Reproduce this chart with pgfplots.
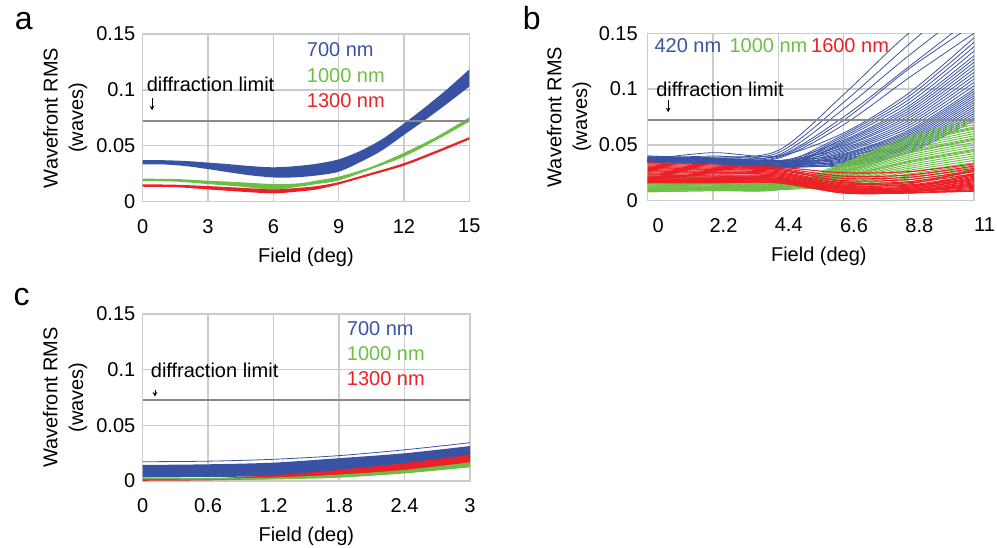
\documentclass[border=0pt]{standalone}
\usepackage{pgfplots}
\pgfplotsset{compat=1.18}
\usepgfplotslibrary{fillbetween}
\usetikzlibrary{arrows.meta}
\usepackage{fontspec}
\setmainfont{Liberation Sans}
\definecolor{cblue}{HTML}{3953A4}
\definecolor{cgreen}{HTML}{6CBE45}
\definecolor{cred}{HTML}{EC2027}
\definecolor{gridgray}{HTML}{CCCCCC}
\definecolor{limgray}{HTML}{8A8A8A}
\tikzset{lbl/.style={font=\fontsize{15}{18}\selectfont, inner sep=0pt, anchor=west}}
\pgfplotsset{
 panel/.style={
  scale only axis,
  ymin=0, ymax=0.15,
  ytick={0,0.05,0.1,0.15},
  yticklabels={0,0.05,0.1,0.15},
  scaled ticks=false,
  axis line style={draw=gridgray, line width=1pt},
  grid=major,
  major grid style={draw=gridgray, line width=1pt},
  major tick length=0pt,
  tick label style={font=\fontsize{15}{18}\selectfont, text=black},
  /pgf/number format/assume math mode=true,
  xticklabel style={yshift=-9.5pt},
  yticklabel style={xshift=-2pt},
  ylabel={Wavefront RMS\\(waves)},
  ylabel style={at={(axis description cs:-0.237,0.5)}, anchor=center, align=center, font=\fontsize{15}{19.2}\selectfont},
  xlabel={Field (deg)},
  xlabel style={at={(axis description cs:0.5,0)}, anchor=center, yshift=-41.5pt, font=\fontsize{15}{18}\selectfont},
  clip=true,
 },
 lim/.style={limgray, line width=1.4pt},
 bl/.style={cblue, line width=0.6pt, smooth},
 gl/.style={cgreen, line width=0.7pt, smooth},
 rl/.style={cred, line width=0.8pt, smooth},
}
\newcommand{\darrow}[3]{\draw[black, line width=0.6pt, -{Stealth[length=3.5pt,width=3.5pt]}] (axis cs:#1,#2) -- (axis cs:#1,#3);}
\begin{document}
\begin{tikzpicture}
\node[font=\fontsize{24}{28}\selectfont, anchor=base west, inner sep=0pt] at (11pt,-22.5pt) {a};
\node[font=\fontsize{24}{28}\selectfont, anchor=base west, inner sep=0pt] at (392pt,-22.5pt) {b};
\node[font=\fontsize{24}{28}\selectfont, anchor=base west, inner sep=0pt] at (10pt,-229pt) {c};

% ---------------- panel a ----------------
\begin{axis}[panel, at={(107pt,-151.3pt)}, anchor=south west, width=245pt, height=125.8pt,
  xmin=0, xmax=15, xtick={0,3,6,9,12,15}, xticklabels={0,3,6,9,12,15}]
\addplot[lim] coordinates {(0,0.0725) (15,0.0725)};
\addplot[name path=aBu, draw=none, smooth] coordinates {(0,0.0373) (1,0.0371) (2,0.0364) (3,0.0350) (4,0.0335) (5,0.0318) (6,0.0308) (7,0.0318) (8,0.0340) (9,0.0379) (10,0.0455) (11,0.0560) (12,0.0700) (13,0.0850) (14,0.1010) (15,0.1184)};
\addplot[name path=aBl, draw=none, smooth] coordinates {(0,0.0335) (1,0.0333) (2,0.0318) (3,0.0292) (4,0.0262) (5,0.0235) (6,0.0217) (7,0.0218) (8,0.0235) (9,0.0268) (10,0.0355) (11,0.0460) (12,0.0598) (13,0.0735) (14,0.0880) (15,0.1030)};
\addplot[fill=cblue, draw=none] fill between[of=aBu and aBl];
\addplot[name path=aGu, draw=none, smooth] coordinates {(0,0.0206) (1.5,0.0203) (3,0.0188) (4.5,0.0174) (6,0.0158) (7.2,0.0165) (8,0.0190) (9,0.0224) (10.5,0.0312) (12,0.0438) (13.5,0.0582) (15,0.0755)};
\addplot[name path=aGl, draw=none, smooth] coordinates {(0,0.0185) (1.5,0.0180) (3,0.0158) (4.5,0.0135) (6,0.0108) (7.2,0.0135) (8,0.0158) (9,0.0190) (10.5,0.0292) (12,0.0403) (13.5,0.0553) (15,0.0716)};
\addplot[fill=cgreen, draw=none] fill between[of=aGu and aGl];
\addplot[name path=aRu, draw=none, smooth] coordinates {(0,0.0156) (1.5,0.0152) (3,0.0140) (4.5,0.0125) (6,0.0110) (7.2,0.0125) (8,0.0140) (9,0.0175) (10.5,0.0258) (12,0.0345) (13.5,0.0458) (15,0.0578)};
\addplot[name path=aRl, draw=none, smooth] coordinates {(0,0.0134) (1.5,0.0130) (3,0.0110) (4.5,0.0090) (6,0.0075) (7.2,0.0092) (8,0.0110) (9,0.0155) (10.5,0.0238) (12,0.0323) (13.5,0.0436) (15,0.0556)};
\addplot[fill=cred, draw=none] fill between[of=aRu and aRl];
\node[lbl, text=cblue] at (axis cs:7.53,0.1357) {700 nm};
\node[lbl, text=cgreen] at (axis cs:7.53,0.1124) {1000 nm};
\node[lbl, text=cred] at (axis cs:7.53,0.0903) {1300 nm};
\node[lbl] at (axis cs:0.18,0.1053) {diffraction limit};
\darrow{0.43}{0.0925}{0.0818}
\end{axis}

% ---------------- panel b ----------------
\begin{axis}[panel, at={(485.8pt,-150.5pt)}, anchor=south west, width=244.7pt, height=125.55pt,
  xmin=0, xmax=11, xtick={0,2.2,4.4,6.6,8.8,11}, xticklabels={0,2.2,4.4,6.6,8.8,11},
  xticklabel style={xshift=7.9pt}, yticklabel style={xshift=-2pt},
  ylabel style={at={(axis description cs:-0.241,0.5)}},
  xlabel style={xshift=6pt}]
% blue
\addplot[bl] coordinates {(0,0.038) (2.2,0.037) (4.4,0.034) (6.6,0.0310) (8.8,0.0430) (11,0.072)};
\addplot[bl] coordinates {(0,0.036) (2.2,0.035) (4.4,0.031) (6.6,0.0318) (8.8,0.0444) (11,0.074)};
\addplot[bl] coordinates {(0,0.035) (2.2,0.034) (4.4,0.030) (6.6,0.0326) (8.8,0.0459) (11,0.076)};
\addplot[bl] coordinates {(0,0.037) (2.2,0.036) (4.4,0.032) (6.6,0.0334) (8.8,0.0473) (11,0.078)};
\addplot[bl] coordinates {(0,0.039) (2.2,0.038) (4.4,0.035) (6.6,0.0342) (8.8,0.0488) (11,0.080)};
\addplot[bl] coordinates {(0,0.034) (2.2,0.033) (4.4,0.029) (6.6,0.0350) (8.8,0.0502) (11,0.082)};
\addplot[bl] coordinates {(0,0.036) (2.2,0.035) (4.4,0.031) (6.6,0.0358) (8.8,0.0516) (11,0.084)};
\addplot[bl] coordinates {(0,0.038) (2.2,0.037) (4.4,0.033) (6.6,0.0366) (8.8,0.0531) (11,0.086)};
\addplot[bl] coordinates {(0,0.040) (2.2,0.038) (4.4,0.036) (6.6,0.0374) (8.8,0.0545) (11,0.088)};
\addplot[bl] coordinates {(0,0.035) (2.2,0.034) (4.4,0.030) (6.6,0.0382) (8.8,0.0560) (11,0.090)};
\addplot[bl] coordinates {(0,0.038) (2.2,0.037) (4.4,0.034) (6.6,0.0390) (8.8,0.0574) (11,0.092)};
\addplot[bl] coordinates {(0,0.036) (2.2,0.035) (4.4,0.031) (6.6,0.0398) (8.8,0.0588) (11,0.094)};
\addplot[bl] coordinates {(0,0.035) (2.2,0.034) (4.4,0.030) (6.6,0.0406) (8.8,0.0603) (11,0.096)};
\addplot[bl] coordinates {(0,0.037) (2.2,0.036) (4.4,0.032) (6.6,0.0414) (8.8,0.0617) (11,0.098)};
\addplot[bl] coordinates {(0,0.039) (2.2,0.038) (4.4,0.035) (6.6,0.0422) (8.8,0.0632) (11,0.100)};
\addplot[bl] coordinates {(0,0.034) (2.2,0.033) (4.4,0.029) (6.6,0.0434) (8.8,0.0653) (11,0.103)};
\addplot[bl] coordinates {(0,0.036) (2.2,0.035) (4.4,0.031) (6.6,0.0446) (8.8,0.0675) (11,0.106)};
\addplot[bl] coordinates {(0,0.038) (2.2,0.037) (4.4,0.033) (6.6,0.0458) (8.8,0.0696) (11,0.109)};
\addplot[bl] coordinates {(0,0.040) (2.2,0.038) (4.4,0.036) (6.6,0.0470) (8.8,0.0718) (11,0.112)};
\addplot[bl] coordinates {(0,0.035) (2.2,0.034) (4.4,0.030) (6.6,0.0482) (8.8,0.0740) (11,0.115)};
\addplot[bl] coordinates {(0,0.038) (2.2,0.037) (4.4,0.034) (6.6,0.0494) (8.8,0.0761) (11,0.118)};
\addplot[bl] coordinates {(0,0.036) (2.2,0.035) (4.4,0.031) (6.6,0.0506) (8.8,0.0783) (11,0.121)};
\addplot[bl] coordinates {(0,0.035) (2.2,0.034) (4.4,0.030) (6.6,0.0518) (8.8,0.0804) (11,0.124)};
\addplot[bl] coordinates {(0,0.037) (2.2,0.036) (4.4,0.032) (6.6,0.0530) (8.8,0.0826) (11,0.127)};
\addplot[bl] coordinates {(0,0.039) (2.2,0.038) (4.4,0.035) (6.6,0.0542) (8.8,0.0848) (11,0.130)};
\addplot[bl] coordinates {(0,0.034) (2.2,0.033) (4.4,0.029) (6.6,0.0558) (8.8,0.0876) (11,0.134)};
\addplot[bl] coordinates {(0,0.036) (2.2,0.035) (4.4,0.031) (6.6,0.0574) (8.8,0.0905) (11,0.138)};
\addplot[bl] coordinates {(0,0.038) (2.2,0.037) (4.4,0.033) (6.6,0.0590) (8.8,0.0934) (11,0.142)};
\addplot[bl] coordinates {(0,0.037) (2.2,0.043) (4.4,0.040) (6.6,0.0606) (8.8,0.0963) (11,0.146)};
\addplot[bl] coordinates {(0,0.038) (2.2,0.039) (4.4,0.045) (6.6,0.095) (8.8,0.150) (11,0.19)};
\addplot[bl] coordinates {(0,0.037) (2.2,0.038) (4.4,0.043) (6.6,0.088) (8.8,0.140) (11,0.19)};
\addplot[bl] coordinates {(0,0.036) (2.2,0.037) (4.4,0.041) (6.6,0.082) (8.8,0.130) (11,0.175)};
\addplot[bl] coordinates {(0,0.038) (2.2,0.040) (4.4,0.040) (6.6,0.075) (8.8,0.120) (11,0.165)};
\addplot[bl] coordinates {(0,0.035) (2.2,0.036) (4.4,0.038) (6.6,0.068) (8.8,0.110) (11,0.150)};
\addplot[bl] coordinates {(0,0.036) (2.2,0.037) (4.4,0.039) (6.6,0.072) (8.8,0.118) (11,0.158)};
% green
\addplot[gl] coordinates {(0,0.020) (2.2,0.018) (4.4,0.0150) (6.6,0.0336) (8.8,0.0578) (11,0.072)};
\addplot[gl] coordinates {(0,0.012) (2.2,0.012) (4.4,0.0110) (6.6,0.0327) (8.8,0.0561) (11,0.070)};
\addplot[gl] coordinates {(0,0.016) (2.2,0.015) (4.4,0.0130) (6.6,0.0318) (8.8,0.0544) (11,0.068)};
\addplot[gl] coordinates {(0,0.009) (2.2,0.010) (4.4,0.0100) (6.6,0.0309) (8.8,0.0527) (11,0.066)};
\addplot[gl] coordinates {(0,0.022) (2.2,0.019) (4.4,0.0140) (6.6,0.0300) (8.8,0.0510) (11,0.064)};
\addplot[gl] coordinates {(0,0.014) (2.2,0.013) (4.4,0.0120) (6.6,0.0291) (8.8,0.0493) (11,0.062)};
\addplot[gl] coordinates {(0,0.010) (2.2,0.010) (4.4,0.0105) (6.6,0.0282) (8.8,0.0476) (11,0.060)};
\addplot[gl] coordinates {(0,0.018) (2.2,0.016) (4.4,0.0135) (6.6,0.0273) (8.8,0.0459) (11,0.058)};
\addplot[gl] coordinates {(0,0.008) (2.2,0.009) (4.4,0.0098) (6.6,0.0264) (8.8,0.0442) (11,0.056)};
\addplot[gl] coordinates {(0,0.024) (2.2,0.020) (4.4,0.0150) (6.6,0.0255) (8.8,0.0425) (11,0.054)};
\addplot[gl] coordinates {(0,0.013) (2.2,0.012) (4.4,0.0120) (6.6,0.0246) (8.8,0.0408) (11,0.052)};
\addplot[gl] coordinates {(0,0.011) (2.2,0.011) (4.4,0.0110) (6.6,0.0237) (8.8,0.0391) (11,0.050)};
\addplot[gl] coordinates {(0,0.017) (2.2,0.015) (4.4,0.0130) (6.6,0.0228) (8.8,0.0374) (11,0.048)};
\addplot[gl] coordinates {(0,0.015) (2.2,0.014) (4.4,0.0125) (6.6,0.0219) (8.8,0.0357) (11,0.046)};
\addplot[gl] coordinates {(0,0.019) (2.2,0.017) (4.4,0.0140) (6.6,0.0210) (8.8,0.0340) (11,0.044)};
\addplot[gl] coordinates {(0,0.020) (2.2,0.018) (4.4,0.0150) (6.6,0.0201) (8.8,0.0323) (11,0.042)};
\addplot[gl] coordinates {(0,0.012) (2.2,0.012) (4.4,0.0110) (6.6,0.0192) (8.8,0.0306) (11,0.040)};
\addplot[gl] coordinates {(0,0.016) (2.2,0.015) (4.4,0.0130) (6.6,0.0183) (8.8,0.0289) (11,0.038)};
\addplot[gl] coordinates {(0,0.009) (2.2,0.010) (4.4,0.0100) (6.6,0.0174) (8.8,0.0272) (11,0.036)};
\addplot[gl] coordinates {(0,0.022) (2.2,0.019) (4.4,0.0140) (6.6,0.0165) (8.8,0.0255) (11,0.034)};
\addplot[gl] coordinates {(0,0.014) (2.2,0.013) (4.4,0.0120) (6.6,0.0156) (8.8,0.0238) (11,0.032)};
\addplot[gl] coordinates {(0,0.010) (2.2,0.010) (4.4,0.0105) (6.6,0.0147) (8.8,0.0221) (11,0.030)};
\addplot[gl] coordinates {(0,0.018) (2.2,0.016) (4.4,0.0135) (6.6,0.0138) (8.8,0.0204) (11,0.028)};
\addplot[gl] coordinates {(0,0.008) (2.2,0.009) (4.4,0.0098) (6.6,0.0129) (8.8,0.0187) (11,0.026)};
\addplot[gl] coordinates {(0,0.024) (2.2,0.020) (4.4,0.0150) (6.6,0.0120) (8.8,0.0170) (11,0.024)};
\addplot[gl] coordinates {(0,0.011) (2.2,0.011) (4.4,0.0110) (6.6,0.0310) (8.8,0.0520) (11,0.065)};
\addplot[gl] coordinates {(0,0.015) (2.2,0.014) (4.4,0.0125) (6.6,0.0260) (8.8,0.0430) (11,0.055)};
\addplot[gl] coordinates {(0,0.013) (2.2,0.012) (4.4,0.0120) (6.6,0.0215) (8.8,0.0350) (11,0.045)};
% red
\addplot[rl] coordinates {(0,0.034) (2.2,0.032) (4.4,0.030) (6.6,0.025) (8.8,0.026) (11,0.033)};
\addplot[rl] coordinates {(0,0.033) (2.2,0.031) (4.4,0.029) (6.6,0.022) (8.8,0.023) (11,0.031)};
\addplot[rl] coordinates {(0,0.032) (2.2,0.030) (4.4,0.028) (6.6,0.020) (8.8,0.021) (11,0.029)};
\addplot[rl] coordinates {(0,0.031) (2.2,0.029) (4.4,0.027) (6.6,0.018) (8.8,0.019) (11,0.027)};
\addplot[rl] coordinates {(0,0.030) (2.2,0.028) (4.4,0.026) (6.6,0.016) (8.8,0.017) (11,0.026)};
\addplot[rl] coordinates {(0,0.029) (2.2,0.027) (4.4,0.025) (6.6,0.015) (8.8,0.016) (11,0.024)};
\addplot[rl] coordinates {(0,0.028) (2.2,0.026) (4.4,0.024) (6.6,0.014) (8.8,0.014) (11,0.023)};
\addplot[rl] coordinates {(0,0.027) (2.2,0.025) (4.4,0.023) (6.6,0.013) (8.8,0.013) (11,0.022)};
\addplot[rl] coordinates {(0,0.026) (2.2,0.024) (4.4,0.023) (6.6,0.012) (8.8,0.012) (11,0.021)};
\addplot[rl] coordinates {(0,0.025) (2.2,0.023) (4.4,0.022) (6.6,0.012) (8.8,0.011) (11,0.020)};
\addplot[rl] coordinates {(0,0.024) (2.2,0.022) (4.4,0.021) (6.6,0.011) (8.8,0.011) (11,0.019)};
\addplot[rl] coordinates {(0,0.023) (2.2,0.022) (4.4,0.021) (6.6,0.010) (8.8,0.010) (11,0.018)};
\addplot[rl] coordinates {(0,0.022) (2.2,0.021) (4.4,0.020) (6.6,0.010) (8.8,0.010) (11,0.017)};
\addplot[rl] coordinates {(0,0.021) (2.2,0.020) (4.4,0.020) (6.6,0.009) (8.8,0.009) (11,0.016)};
\addplot[rl] coordinates {(0,0.020) (2.2,0.019) (4.4,0.019) (6.6,0.009) (8.8,0.009) (11,0.015)};
\addplot[rl] coordinates {(0,0.0195) (2.2,0.019) (4.4,0.019) (6.6,0.009) (8.8,0.008) (11,0.014)};
\addplot[rl] coordinates {(0,0.0185) (2.2,0.0185) (4.4,0.018) (6.6,0.008) (8.8,0.008) (11,0.013)};
\addplot[rl] coordinates {(0,0.018) (2.2,0.018) (4.4,0.018) (6.6,0.008) (8.8,0.008) (11,0.012)};
\addplot[rl] coordinates {(0,0.0175) (2.2,0.0175) (4.4,0.017) (6.6,0.008) (8.8,0.007) (11,0.011)};
\addplot[rl] coordinates {(0,0.017) (2.2,0.017) (4.4,0.017) (6.6,0.007) (8.8,0.007) (11,0.010)};
\addplot[rl] coordinates {(0,0.0165) (2.2,0.0165) (4.4,0.016) (6.6,0.007) (8.8,0.007) (11,0.009)};
\addplot[rl] coordinates {(0,0.016) (2.2,0.016) (4.4,0.016) (6.6,0.007) (8.8,0.007) (11,0.0085)};
\addplot[rl] coordinates {(0,0.030) (2.2,0.028) (4.4,0.028) (6.6,0.017) (8.8,0.014) (11,0.019)};
\addplot[rl] coordinates {(0,0.021) (2.2,0.020) (4.4,0.019) (6.6,0.013) (8.8,0.015) (11,0.028)};
\addplot[rl] coordinates {(0,0.027) (2.2,0.025) (4.4,0.025) (6.6,0.011) (8.8,0.009) (11,0.014)};
\addplot[rl] coordinates {(0,0.0185) (2.2,0.0185) (4.4,0.018) (6.6,0.012) (8.8,0.012) (11,0.024)};
\addplot[lim] coordinates {(0,0.0725) (11,0.0725)};
\node[lbl, text=cblue] at (axis cs:0.22,0.1389) {420 nm};
\node[lbl, text=cgreen] at (axis cs:2.75,0.1389) {1000 nm};
\node[lbl, text=cred] at (axis cs:5.5,0.1389) {1600 nm};
\node[lbl] at (axis cs:0.28,0.0998) {diffraction limit};
\darrow{0.69}{0.0902}{0.0792}
\end{axis}

% ---------------- panel c ----------------
\begin{axis}[panel, at={(107pt,-360.75pt)}, anchor=south west, width=245.5pt, height=125.25pt,
  xmin=0, xmax=3, xtick={0,0.6,1.2,1.8,2.4,3}, xticklabels={0,0.6,1.2,1.8,2.4,3}]
\addplot[lim] coordinates {(0,0.0725) (3,0.0725)};
\addplot[cblue, line width=0.6pt, smooth] coordinates {(0,0.0173) (0.6,0.0178) (1.2,0.0195) (1.8,0.0228) (2.4,0.0280) (3,0.0344)};
\addplot[name path=cBu, draw=none, smooth] coordinates {(0,0.0144) (0.6,0.0150) (1.2,0.0165) (1.8,0.0205) (2.4,0.0249) (3,0.0314)};
\addplot[name path=cBl, draw=none, smooth] coordinates {(0,0.0033) (0.6,0.0035) (1.2,0.0045) (1.8,0.0070) (2.4,0.0110) (3,0.0189)};
\addplot[fill=cblue, draw=none] fill between[of=cBu and cBl];
\addplot[name path=cRu, draw=none, smooth] coordinates {(0,0.0018) (0.6,0.0025) (1.2,0.0052) (1.8,0.0100) (2.4,0.0160) (3,0.0236)};
\addplot[name path=cRl, draw=none, smooth] coordinates {(0,0.0002) (0.6,0.0006) (1.2,0.0018) (1.8,0.0042) (2.4,0.0085) (3,0.0155)};
\addplot[fill=cred, draw=none] fill between[of=cRu and cRl];
\addplot[name path=cGu, draw=none, smooth] coordinates {(0,0.0030) (0.6,0.0026) (1.2,0.0032) (1.8,0.0058) (2.4,0.0100) (3,0.0168)};
\addplot[name path=cGl, draw=none, smooth] coordinates {(0,0.0016) (0.6,0.0012) (1.2,0.0014) (1.8,0.0030) (2.4,0.0068) (3,0.0123)};
\addplot[fill=cgreen, draw=none] fill between[of=cGu and cGl];
\node[lbl, text=cblue] at (axis cs:1.87,0.1372) {700 nm};
\node[lbl, text=cgreen] at (axis cs:1.87,0.1141) {1000 nm};
\node[lbl, text=cred] at (axis cs:1.87,0.0916) {1300 nm};
\node[lbl] at (axis cs:0.073,0.0991) {diffraction limit};
\darrow{0.113}{0.0817}{0.0757}
\end{axis}
\pgfresetboundingbox
\useasboundingbox (0,0) rectangle (747.75pt,-411pt);
\end{tikzpicture}
\end{document}
